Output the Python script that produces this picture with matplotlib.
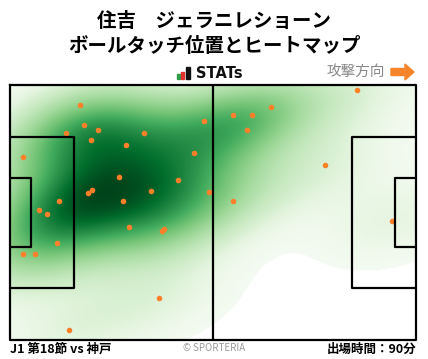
import numpy as np
import matplotlib.pyplot as plt
from matplotlib.patches import Rectangle, FancyArrow

plt.rcParams['font.family'] = ['Noto Sans CJK JP', 'DejaVu Sans']

# touch positions in metres, x along pitch (attack to the right), y from top touchline
touch_x = [18.2, 19.2, 22.8, 14.6, 21.0, 34.7, 50.3, 30.1, 3.4, 47.7,
           28.3, 43.5, 20.2, 21.3, 12.8, 36.5, 29.3, 51.5, 7.6, 9.6,
           89.8, 57.8, 62.7, 67.6, 61.4, 81.5, 57.8, 30.9, 39.4, 39.8,
           12.2, 3.4, 6.5, 38.6, 15.3, 98.9]
touch_y = [5.4, 10.7, 12.1, 12.9, 14.7, 12.9, 9.7, 16.1, 19.2, 18.2,
           24.6, 25.4, 28.9, 28.1, 31.0, 28.3, 31.0, 28.6, 33.4, 34.5,
           1.4, 8.1, 8.1, 5.9, 12.1, 21.4, 31.0, 37.9, 38.9, 38.5,
           42.2, 45.1, 45.1, 56.8, 65.4, 36.3]

title = '住吉　ジェラニレショーン\nボールタッチ位置とヒートマップ'
match_label = 'J1 第18節 vs 神戸'
minutes_label = '出場時間：90分'

L, W = 105.0, 68.0

fig = plt.figure(figsize=(4.28, 3.59), dpi=100)
ax = fig.add_axes([10/428, 19/359, 406/428, 255/359])

# gaussian kde (scott bandwidth, full covariance) on an extended grid
px = np.array(touch_x)
py = np.array(touch_y)
n = len(px)
cov = np.cov(np.vstack([px, py])) * n ** (-2 / 6)
inv = np.linalg.inv(cov)
x_ext = (-45, 150)
y_ext = (-35, 103)
gx, gy = np.meshgrid(np.linspace(*x_ext, 700), np.linspace(*y_ext, 500))
dens = np.zeros_like(gx)
for x0, y0 in zip(px, py):
    dx, dy = gx - x0, gy - y0
    dens += np.exp(-0.5 * (inv[0, 0]*dx*dx + 2*inv[0, 1]*dx*dy + inv[1, 1]*dy*dy))

# iso-proportion shading: mass of the grid lying below each cell's density
flat = dens.ravel()
order = np.argsort(flat)
cum = np.cumsum(flat[order])
cum /= cum[-1]
prop = np.empty_like(flat)
prop[order] = cum
prop = prop.reshape(dens.shape)
shade = np.where(prop < 0.022, -1.0, prop)
cmap = plt.get_cmap('Greens').copy()
cmap.set_under('white')
ax.imshow(shade, extent=(x_ext[0], x_ext[1], y_ext[1], y_ext[0]), cmap=cmap,
          vmin=0.0, vmax=1.0, interpolation='bilinear', aspect='auto', zorder=1)

ax.scatter(px, py, s=16, color='#ff7f2a', zorder=5, linewidths=0)

lw = 1.6
ax.plot([0, L, L, 0, 0], [0, 0, W, W, 0], color='black', lw=lw, zorder=6, clip_on=False)
ax.plot([L/2, L/2], [0, W], color='black', lw=lw, zorder=6)
for x0, d in [(0, 1), (L, -1)]:
    pb_y0, pb_y1 = W/2 - 20.16, W/2 + 20.16
    ax.plot([x0, x0 + d*16.5, x0 + d*16.5, x0], [pb_y0, pb_y0, pb_y1, pb_y1], color='black', lw=lw, zorder=6)
    gb_y0, gb_y1 = W/2 - 9.16, W/2 + 9.16
    ax.plot([x0, x0 + d*5.5, x0 + d*5.5, x0], [gb_y0, gb_y0, gb_y1, gb_y1], color='black', lw=lw, zorder=6)

ax.set_xlim(0, L)
ax.set_ylim(W, 0)
ax.axis('off')

fig.text(0.5, 1 - 34/359, title, ha='center', va='center', fontsize=14,
         fontweight='bold', linespacing=1.4)

# STATs logo
for (x0, y0, w, h, c) in [(177, 74, 3, 5, '#2e9e4a'), (181, 72, 3, 7, '#e03030'), (186, 67, 4, 12, '#111111')]:
    fig.patches.append(Rectangle((x0/428, 1 - (y0 + h)/359), w/428, h/359,
                                 transform=fig.transFigure, color=c))
fig.text(196/428, 1 - 73/359, 'STATs', ha='left', va='center', fontsize=10.5,
         fontweight='bold', color='#111111', family=['DejaVu Sans'])

fig.text(385/428, 1 - 72/359, '攻撃方向', ha='right', va='center', fontsize=10.5, color='#888888')
fig.patches.append(FancyArrow(391/428, 1 - 72/359, 14/428, 0, width=7/359,
                              head_width=16/359, head_length=9/428, length_includes_head=False,
                              transform=fig.transFigure, color='#f5842a'))

fig.text(10/428, 1 - 349/359, match_label, ha='left', va='center', fontsize=9, fontweight='bold')
fig.text(214/428, 1 - 348/359, '© SPORTERIA', ha='center', va='center', fontsize=7, color='#999999')
fig.text(416/428, 1 - 349/359, minutes_label, ha='right', va='center', fontsize=9, fontweight='bold')

fig.savefig('out.png', dpi=100)
